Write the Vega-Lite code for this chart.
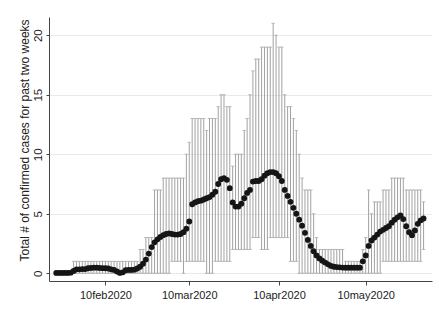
{
  "$schema": "https://vega.github.io/schema/vega-lite/v6.json",
  "width": 383,
  "height": 264,
  "autosize": {"type": "none"},
  "padding": {"left": 49, "top": 17, "right": 7, "bottom": 40},
  "background": "white",
  "config": {"view": {"stroke": null}, "font": "Liberation Sans"},
  "data": {"values": [
    {"date":"2020-01-24","m":0.03,"lo":0,"hi":0},
    {"date":"2020-01-25","m":0.03,"lo":0,"hi":0},
    {"date":"2020-01-26","m":0.03,"lo":0,"hi":0},
    {"date":"2020-01-27","m":0.03,"lo":0,"hi":0},
    {"date":"2020-01-28","m":0.03,"lo":0,"hi":0},
    {"date":"2020-01-29","m":0.05,"lo":0,"hi":0},
    {"date":"2020-01-30","m":0.2,"lo":0,"hi":1},
    {"date":"2020-01-31","m":0.33,"lo":0,"hi":1},
    {"date":"2020-02-01","m":0.33,"lo":0,"hi":1},
    {"date":"2020-02-02","m":0.35,"lo":0,"hi":1},
    {"date":"2020-02-03","m":0.35,"lo":0,"hi":1},
    {"date":"2020-02-04","m":0.42,"lo":0,"hi":1},
    {"date":"2020-02-05","m":0.45,"lo":0,"hi":1},
    {"date":"2020-02-06","m":0.47,"lo":0,"hi":1},
    {"date":"2020-02-07","m":0.47,"lo":0,"hi":1},
    {"date":"2020-02-08","m":0.45,"lo":0,"hi":1},
    {"date":"2020-02-09","m":0.43,"lo":0,"hi":1},
    {"date":"2020-02-10","m":0.42,"lo":0,"hi":1},
    {"date":"2020-02-11","m":0.4,"lo":0,"hi":1},
    {"date":"2020-02-12","m":0.33,"lo":0,"hi":1},
    {"date":"2020-02-13","m":0.28,"lo":0,"hi":1},
    {"date":"2020-02-14","m":0.15,"lo":0,"hi":1},
    {"date":"2020-02-15","m":0.03,"lo":0,"hi":1},
    {"date":"2020-02-16","m":0.08,"lo":0,"hi":1},
    {"date":"2020-02-17","m":0.25,"lo":0,"hi":1},
    {"date":"2020-02-18","m":0.28,"lo":0,"hi":1},
    {"date":"2020-02-19","m":0.28,"lo":0,"hi":1},
    {"date":"2020-02-20","m":0.3,"lo":0,"hi":1},
    {"date":"2020-02-21","m":0.4,"lo":0,"hi":1},
    {"date":"2020-02-22","m":0.55,"lo":0,"hi":2},
    {"date":"2020-02-23","m":0.8,"lo":0,"hi":2},
    {"date":"2020-02-24","m":1.15,"lo":0,"hi":3},
    {"date":"2020-02-25","m":1.65,"lo":0,"hi":3},
    {"date":"2020-02-26","m":2.2,"lo":0,"hi":3},
    {"date":"2020-02-27","m":2.6,"lo":0,"hi":7},
    {"date":"2020-02-28","m":2.85,"lo":0,"hi":7},
    {"date":"2020-02-29","m":3.05,"lo":0,"hi":7},
    {"date":"2020-03-01","m":3.2,"lo":0,"hi":8},
    {"date":"2020-03-02","m":3.3,"lo":0,"hi":8},
    {"date":"2020-03-03","m":3.35,"lo":0,"hi":8},
    {"date":"2020-03-04","m":3.3,"lo":1,"hi":8},
    {"date":"2020-03-05","m":3.25,"lo":1,"hi":8},
    {"date":"2020-03-06","m":3.25,"lo":1,"hi":8},
    {"date":"2020-03-07","m":3.3,"lo":1,"hi":8},
    {"date":"2020-03-08","m":3.45,"lo":0,"hi":8},
    {"date":"2020-03-09","m":3.75,"lo":1,"hi":10},
    {"date":"2020-03-10","m":4.35,"lo":1,"hi":11},
    {"date":"2020-03-11","m":5.8,"lo":1,"hi":13},
    {"date":"2020-03-12","m":5.95,"lo":1,"hi":13},
    {"date":"2020-03-13","m":6.05,"lo":1,"hi":13},
    {"date":"2020-03-14","m":6.1,"lo":1,"hi":13},
    {"date":"2020-03-15","m":6.2,"lo":1,"hi":13},
    {"date":"2020-03-16","m":6.3,"lo":0,"hi":12},
    {"date":"2020-03-17","m":6.4,"lo":0,"hi":13},
    {"date":"2020-03-18","m":6.6,"lo":0,"hi":13},
    {"date":"2020-03-19","m":6.85,"lo":1,"hi":13},
    {"date":"2020-03-20","m":7.5,"lo":1,"hi":14},
    {"date":"2020-03-21","m":7.9,"lo":1,"hi":15},
    {"date":"2020-03-22","m":8.0,"lo":1,"hi":15},
    {"date":"2020-03-23","m":7.85,"lo":1,"hi":14},
    {"date":"2020-03-24","m":7.15,"lo":1,"hi":14},
    {"date":"2020-03-25","m":5.95,"lo":2,"hi":9},
    {"date":"2020-03-26","m":5.6,"lo":2,"hi":10},
    {"date":"2020-03-27","m":5.6,"lo":2,"hi":10},
    {"date":"2020-03-28","m":5.85,"lo":2,"hi":10},
    {"date":"2020-03-29","m":6.3,"lo":2,"hi":12},
    {"date":"2020-03-30","m":6.75,"lo":2,"hi":13},
    {"date":"2020-03-31","m":7.0,"lo":2,"hi":15},
    {"date":"2020-04-01","m":7.7,"lo":3,"hi":17},
    {"date":"2020-04-02","m":7.75,"lo":3,"hi":18},
    {"date":"2020-04-03","m":7.75,"lo":3,"hi":18},
    {"date":"2020-04-04","m":7.9,"lo":2,"hi":19},
    {"date":"2020-04-05","m":8.2,"lo":2,"hi":19},
    {"date":"2020-04-06","m":8.4,"lo":2,"hi":19},
    {"date":"2020-04-07","m":8.5,"lo":3,"hi":19},
    {"date":"2020-04-08","m":8.5,"lo":3,"hi":21},
    {"date":"2020-04-09","m":8.4,"lo":3,"hi":20},
    {"date":"2020-04-10","m":8.15,"lo":3,"hi":19},
    {"date":"2020-04-11","m":7.75,"lo":3,"hi":19},
    {"date":"2020-04-12","m":7.0,"lo":3,"hi":15},
    {"date":"2020-04-13","m":6.5,"lo":3,"hi":14},
    {"date":"2020-04-14","m":6.0,"lo":1,"hi":14},
    {"date":"2020-04-15","m":5.5,"lo":1,"hi":13},
    {"date":"2020-04-16","m":5.0,"lo":1,"hi":12},
    {"date":"2020-04-17","m":4.5,"lo":0,"hi":10},
    {"date":"2020-04-18","m":4.0,"lo":0,"hi":8},
    {"date":"2020-04-19","m":3.4,"lo":0,"hi":7},
    {"date":"2020-04-20","m":2.8,"lo":0,"hi":7},
    {"date":"2020-04-21","m":2.3,"lo":0,"hi":7},
    {"date":"2020-04-22","m":1.85,"lo":0,"hi":5},
    {"date":"2020-04-23","m":1.5,"lo":0,"hi":3},
    {"date":"2020-04-24","m":1.25,"lo":0,"hi":2},
    {"date":"2020-04-25","m":1.05,"lo":0,"hi":2},
    {"date":"2020-04-26","m":0.9,"lo":0,"hi":2},
    {"date":"2020-04-27","m":0.75,"lo":0,"hi":2},
    {"date":"2020-04-28","m":0.62,"lo":0,"hi":2},
    {"date":"2020-04-29","m":0.55,"lo":0,"hi":2},
    {"date":"2020-04-30","m":0.52,"lo":0,"hi":2},
    {"date":"2020-05-01","m":0.5,"lo":0,"hi":2},
    {"date":"2020-05-02","m":0.48,"lo":0,"hi":2},
    {"date":"2020-05-03","m":0.47,"lo":0,"hi":1},
    {"date":"2020-05-04","m":0.47,"lo":0,"hi":1},
    {"date":"2020-05-05","m":0.47,"lo":0,"hi":1},
    {"date":"2020-05-06","m":0.47,"lo":0,"hi":1},
    {"date":"2020-05-07","m":0.47,"lo":0,"hi":1},
    {"date":"2020-05-08","m":0.47,"lo":0,"hi":1},
    {"date":"2020-05-09","m":1.0,"lo":0,"hi":2},
    {"date":"2020-05-10","m":1.5,"lo":0,"hi":3},
    {"date":"2020-05-11","m":2.3,"lo":0,"hi":7},
    {"date":"2020-05-12","m":2.75,"lo":0,"hi":5},
    {"date":"2020-05-13","m":3.0,"lo":0,"hi":6},
    {"date":"2020-05-14","m":3.25,"lo":0,"hi":6},
    {"date":"2020-05-15","m":3.5,"lo":0,"hi":6},
    {"date":"2020-05-16","m":3.65,"lo":1,"hi":7},
    {"date":"2020-05-17","m":3.8,"lo":1,"hi":7},
    {"date":"2020-05-18","m":3.95,"lo":1,"hi":7},
    {"date":"2020-05-19","m":4.25,"lo":1,"hi":8},
    {"date":"2020-05-20","m":4.5,"lo":1,"hi":8},
    {"date":"2020-05-21","m":4.7,"lo":1,"hi":8},
    {"date":"2020-05-22","m":4.85,"lo":1,"hi":8},
    {"date":"2020-05-23","m":4.55,"lo":1,"hi":8},
    {"date":"2020-05-24","m":3.95,"lo":1,"hi":7},
    {"date":"2020-05-25","m":3.45,"lo":1,"hi":7},
    {"date":"2020-05-26","m":3.2,"lo":1,"hi":7},
    {"date":"2020-05-27","m":3.6,"lo":1,"hi":7},
    {"date":"2020-05-28","m":4.15,"lo":1,"hi":7},
    {"date":"2020-05-29","m":4.45,"lo":1,"hi":7},
    {"date":"2020-05-30","m":4.6,"lo":2,"hi":6}
  ]},
  "encoding": {
    "x": {
      "field": "date",
      "type": "temporal",
      "scale": {
        "type": "utc",
        "domain": [
          {"year": 2020, "month": 1, "date": 21, "hours": 12, "utc": true},
          {"year": 2020, "month": 6, "date": 1, "hours": 22, "utc": true}
        ]
      },
      "axis": {
        "title": null,
        "values": [
          {"year": 2020, "month": 2, "date": 10, "utc": true},
          {"year": 2020, "month": 3, "date": 10, "utc": true},
          {"year": 2020, "month": 4, "date": 10, "utc": true},
          {"year": 2020, "month": 5, "date": 10, "utc": true}
        ],
        "labelExpr": "lower(utcFormat(datum.value, '%d%b%Y'))",
        "labelFontSize": 11,
        "labelColor": "#222222",
        "labelPadding": 4,
        "tickSize": 4,
        "tickColor": "#444444",
        "domainColor": "#444444",
        "grid": false
      }
    }
  },
  "layer": [
    {
      "mark": {"type": "rule", "color": "#a2a2a2", "strokeWidth": 1},
      "encoding": {
        "y": {
          "field": "lo",
          "type": "quantitative",
          "scale": {"domain": [-0.65, 21.53], "nice": false, "zero": false},
          "axis": {
            "title": "Total # of confirmed cases for past two weeks",
            "titleFontSize": 12,
            "titleFontWeight": "normal",
            "titleColor": "#222222",
            "titleAngle": -90,
            "titleAlign": "center",
            "titleBaseline": "alphabetic",
            "titleX": -21,
            "titleY": 123,
            "values": [0, 5, 10, 15, 20],
            "labelAngle": -90,
            "labelAlign": "center",
            "labelBaseline": "bottom",
            "labelFontSize": 11.5,
            "labelColor": "#222222",
            "labelPadding": 3,
            "tickSize": 3,
            "tickColor": "#444444",
            "domainColor": "#444444",
            "grid": true,
            "gridColor": "#e3ecee",
            "gridWidth": 1
          }
        },
        "y2": {"field": "hi"}
      }
    },
    {
      "mark": {"type": "tick", "orient": "horizontal", "color": "#a2a2a2", "size": 3.5, "thickness": 1},
      "encoding": {"y": {"field": "hi", "type": "quantitative"}}
    },
    {
      "mark": {"type": "tick", "orient": "horizontal", "color": "#a2a2a2", "size": 3.5, "thickness": 1},
      "encoding": {"y": {"field": "lo", "type": "quantitative"}}
    },
    {
      "mark": {"type": "point", "filled": true, "color": "#151515", "opacity": 1, "size": 34},
      "encoding": {"y": {"field": "m", "type": "quantitative"}}
    }
  ]
}
